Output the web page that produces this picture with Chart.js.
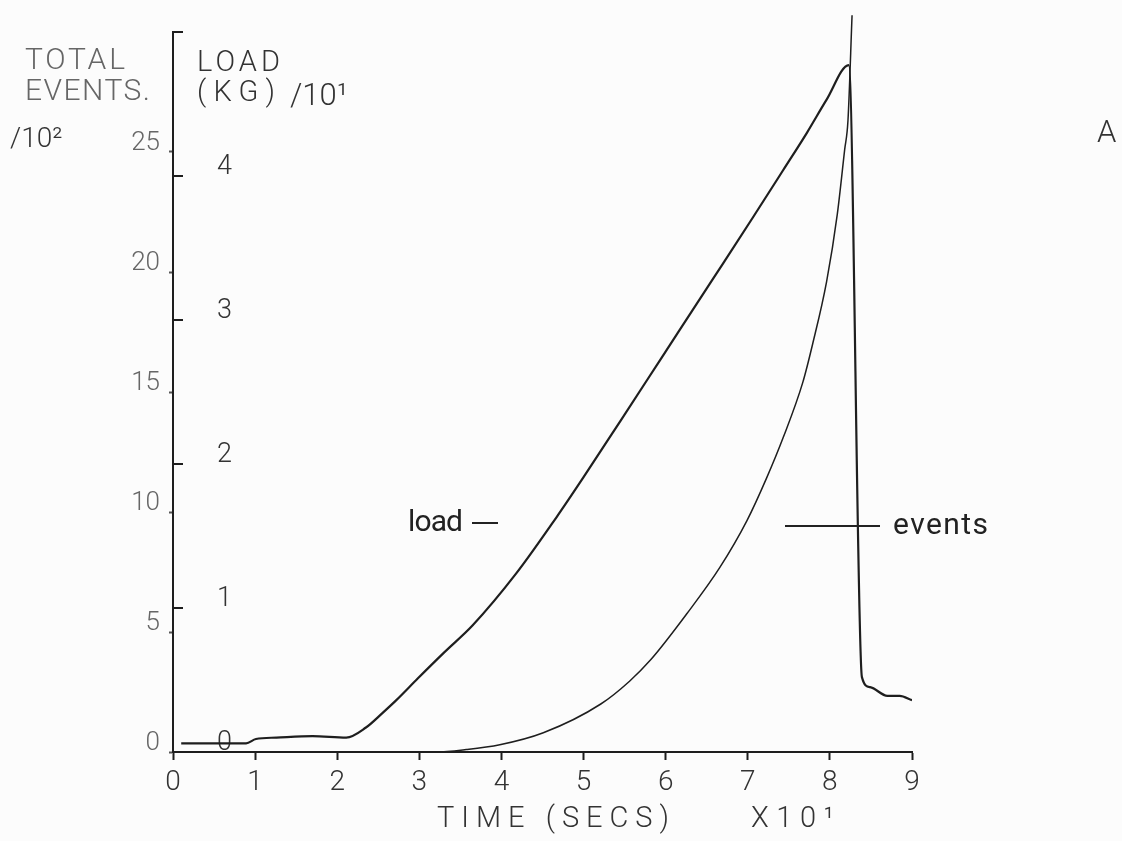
<!DOCTYPE html>
<html><head><meta charset="utf-8">
<script src="https://cdn.jsdelivr.net/npm/chart.js@4.4.1/dist/chart.umd.min.js"></script>
<style>html,body{margin:0;padding:0;background:#fcfcfc;}canvas{display:block}</style>
</head><body>
<canvas id="c" width="1122" height="841"></canvas>
<script>
// time in units of 10 s
const loadTime   = [0.10, 0.89, 1.01, 1.26, 1.70, 2.11, 2.35, 2.55, 2.72, 2.98, 3.30, 3.65, 4.18, 4.67, 4.99, 5.45, 5.93, 6.57, 7.06, 7.43, 7.72, 7.96, 8.23, 8.39, 8.49, 8.70, 8.85, 9.00];
// load in units of 10 kg
const loadValues = [0.06, 0.06, 0.09, 0.10, 0.11, 0.10, 0.17, 0.27, 0.36, 0.51, 0.69, 0.88, 1.24, 1.63, 1.90, 2.30, 2.72, 3.28, 3.71, 4.04, 4.30, 4.53, 4.77, 0.52, 0.45, 0.39, 0.39, 0.36];
const eventTime   = [0, 3.20, 3.57, 3.98, 4.51, 5.21, 5.56, 5.82, 6.26, 6.66, 6.99, 7.23, 7.43, 7.67, 7.79, 7.96, 8.09, 8.18, 8.22, 8.27];
// total events in units of 100
const eventValues = [0, 0, 0.10, 0.30, 0.80, 2.00, 2.95, 3.85, 5.77, 7.69, 9.64, 11.42, 13.09, 15.4, 17.0, 19.6, 22.4, 25.1, 26.3, 30.7];

const timeTicks  = [0, 1, 2, 3, 4, 5, 6, 7, 8, 9];
const eventTicks = [0, 5, 10, 15, 20, 25];
const loadTicks  = [0, 1, 2, 3, 4];
const loadTickMarks = [1, 2, 3, 4, 5];

const INK = '#1e1e1e';
const PLOT_FONT = 'Roboto';

const toPts = (xs, ys) => xs.map((x, i) => ({x, y: ys[i]}));

function fitText(ctx, text, x, y, target, font, color) {
  ctx.font = font;
  ctx.letterSpacing = '0px';
  const w = ctx.measureText(text).width;
  const n = [...text].length;
  const sp = target ? (target - w) / Math.max(n - 1, 1) : 0;
  ctx.letterSpacing = sp + 'px';
  ctx.fillStyle = color;
  ctx.textAlign = 'left';
  ctx.textBaseline = 'middle';
  ctx.fillText(text, x, y);
  ctx.letterSpacing = '0px';
}

const noPad = s => { s.paddingTop = 0; s.paddingBottom = 0; s.paddingLeft = 0; s.paddingRight = 0; };

const annot = {
  id: 'annot',
  afterDraw(chart) {
    const ctx = chart.ctx;
    const ca = chart.chartArea;
    const ly = chart.scales.yLoad;
    ctx.save();
    ctx.strokeStyle = INK; ctx.lineWidth = 2;
    loadTickMarks.forEach(v => {
      const p = ly.getPixelForValue(v);
      ctx.beginPath(); ctx.moveTo(ca.left, p); ctx.lineTo(ca.left + 10, p); ctx.stroke();
    });
    fitText(ctx, 'TOTAL', 25, 61, 100, '300 30px ' + PLOT_FONT, '#666');
    fitText(ctx, 'EVENTS.', 25, 92, 125, '300 30px ' + PLOT_FONT, '#666');
    fitText(ctx, '/10²', 10, 140, 0, '300 28px ' + PLOT_FONT, '#333');
    fitText(ctx, 'LOAD', 197, 64, 83, '300 29px ' + PLOT_FONT, '#333');
    fitText(ctx, '(KG)', 197, 94, 78, '300 29px ' + PLOT_FONT, '#333');
    fitText(ctx, '/10¹', 290, 97, 0, '300 31px ' + PLOT_FONT, '#333');
    fitText(ctx, 'A', 1097, 134, 0, '300 31px ' + PLOT_FONT, '#333');
    fitText(ctx, 'TIME (SECS)', 437, 820, 232, '300 29px ' + PLOT_FONT, '#333');
    fitText(ctx, 'X10¹', 751, 820, 83, '300 29px ' + PLOT_FONT, '#333');
    fitText(ctx, 'load', 408, 523, 55, '400 30px ' + PLOT_FONT, '#222');
    ctx.strokeStyle = '#222'; ctx.lineWidth = 2;
    ctx.beginPath(); ctx.moveTo(472, 523); ctx.lineTo(498, 523); ctx.stroke();
    ctx.beginPath(); ctx.moveTo(785, 526); ctx.lineTo(880, 526); ctx.stroke();
    fitText(ctx, 'events', 893, 526, 95, '400 30px ' + PLOT_FONT, '#222');
    ctx.restore();
  }
};

new Chart(document.getElementById('c'), {
  type: 'line',
  data: {
    datasets: [
      { label: 'load', data: toPts(loadTime, loadValues), yAxisID: 'yLoad',
        borderColor: INK, borderWidth: 2.2, pointRadius: 0,
        cubicInterpolationMode: 'monotone' },
      { label: 'events', data: toPts(eventTime, eventValues), yAxisID: 'yEvents',
        borderColor: INK, borderWidth: 1.5, pointRadius: 0,
        cubicInterpolationMode: 'monotone', clip: false }
    ]
  },
  options: {
    responsive: false,
    animation: false,
    layout: { padding: { top: 32, right: 210, bottom: 0, left: 0 } },
    plugins: { legend: { display: false }, tooltip: { enabled: false } },
    scales: {
      x: {
        type: 'linear', min: 0, max: 9,
        afterBuildTicks: s => { s.ticks = timeTicks.map(v => ({value: v})); },
        afterFit: s => { s.height = 89; noPad(s); },
        grid: { drawOnChartArea: false, drawTicks: true, tickLength: 8, tickWidth: 2, tickColor: INK },
        border: { display: true, color: INK, width: 2 },
        ticks: { font: { family: PLOT_FONT, size: 28, weight: 300 }, color: '#333', padding: 6, maxRotation: 0 }
      },
      yEvents: {
        type: 'linear', position: 'left', min: 0, max: 30, weight: 1,
        afterBuildTicks: s => { s.ticks = eventTicks.map(v => ({value: v})); },
        afterFit: s => { s.width = 173; noPad(s); },
        grid: { drawOnChartArea: false, drawTicks: true, tickLength: 4, tickWidth: 2, tickColor: '#555' },
        border: { display: true, color: INK, width: 2 },
        ticks: { font: { family: PLOT_FONT, size: 26, weight: 300 }, color: '#666', padding: 9, labelOffset: -9 }
      },
      yLoad: {
        type: 'linear', position: 'left', min: 0, max: 5, weight: 0,
        afterBuildTicks: s => { s.ticks = loadTicks.map(v => ({value: v})); },
        afterFit: s => { s.width = 0; noPad(s); },
        grid: { display: false },
        border: { display: false },
        ticks: { mirror: true, font: { family: PLOT_FONT, size: 27, weight: 300 }, color: '#333', padding: 44, labelOffset: -9 }
      }
    }
  },
  plugins: [annot]
});
</script>
</body></html>
